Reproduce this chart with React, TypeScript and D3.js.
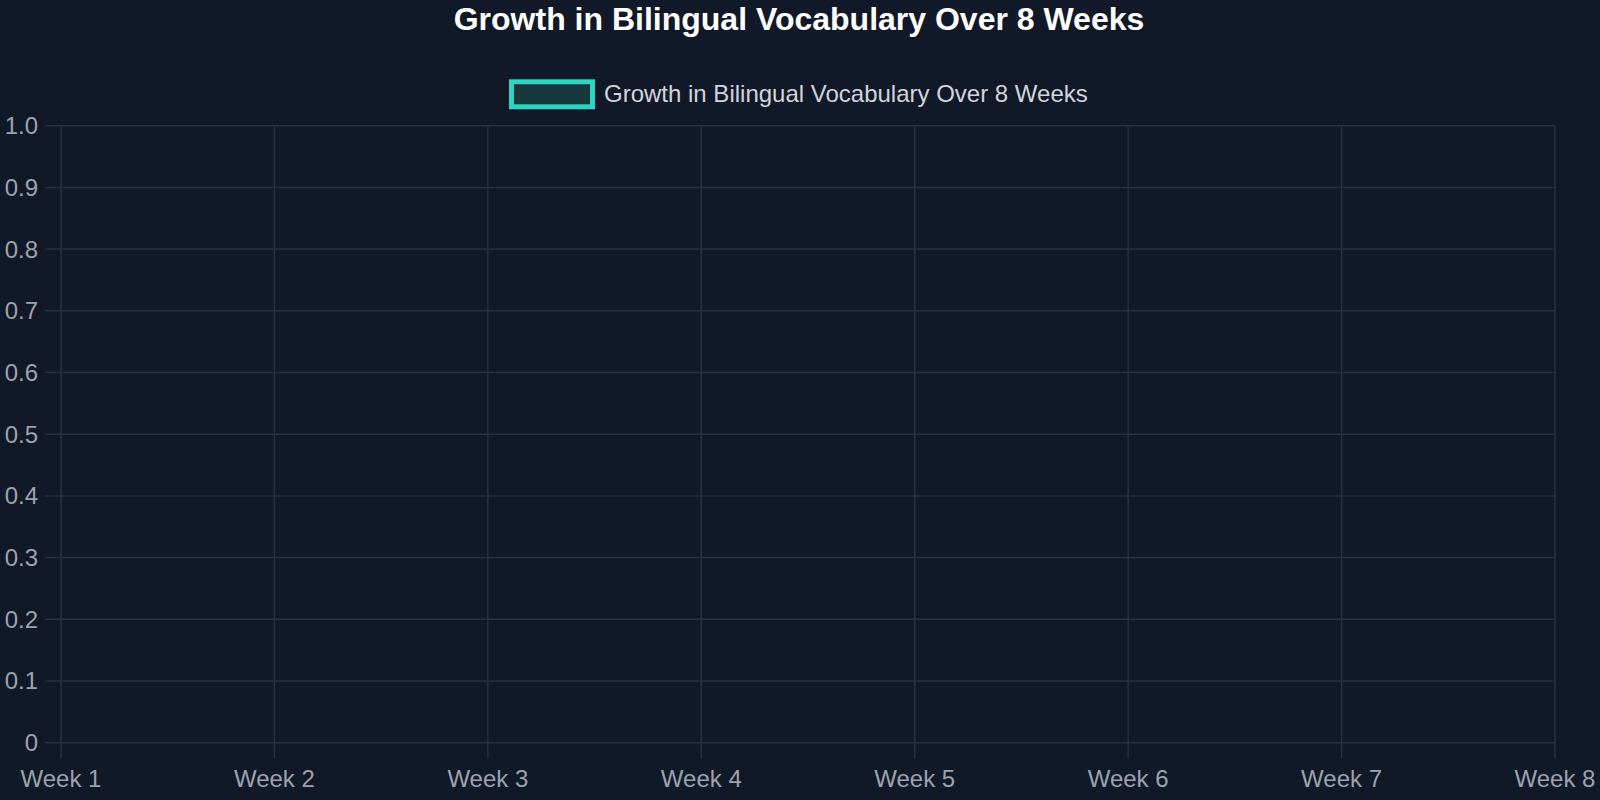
import React from "react";
import * as d3 from "d3";

const chartTitle = "Growth in Bilingual Vocabulary Over 8 Weeks";
const seriesName = "Growth in Bilingual Vocabulary Over 8 Weeks";
const categories = ["Week 1", "Week 2", "Week 3", "Week 4", "Week 5", "Week 6", "Week 7", "Week 8"];
const seriesValues: number[] = [];
const yTicks = [0, 0.1, 0.2, 0.3, 0.4, 0.5, 0.6, 0.7, 0.8, 0.9, 1.0];
const yTickLabels = ["0", "0.1", "0.2", "0.3", "0.4", "0.5", "0.6", "0.7", "0.8", "0.9", "1.0"];

const W = 1600;
const H = 800;
const left = 61;
const right = 1555;
const top = 125.7;
const bottom = 742.7;
const font = "'Liberation Sans', Arial, Helvetica, sans-serif";

export default function App() {
  const x = d3.scalePoint<string>().domain(categories).range([left, right]);
  const y = d3.scaleLinear().domain([0, 1]).range([bottom, top]);
  const line = d3
    .line<number>()
    .x((_, i) => x(categories[i]) as number)
    .y((d) => y(d));
  const grid = "#292f3d";
  return (
    <svg
      width={W}
      height={H}
      style={{ position: "absolute", left: 0, top: 0, display: "block" }}
      fontFamily={font}
    >
      <rect x={0} y={0} width={W} height={H} fill="#111827" />
      <text x={799} y={30} textAnchor="middle" fill="#ffffff" fontSize={32} fontWeight="bold">
        {chartTitle}
      </text>
      <rect x={511.5} y={81.8} width={81} height={25} fill="#17363e" stroke="#2dd4bf" strokeWidth={5} />
      <text x={604} y={102.3} fill="#d1d5db" fontSize={24}>
        {seriesName}
      </text>
      {yTicks.map((t, i) => (
        <g key={"y" + i}>
          <line x1={45} x2={right} y1={y(t)} y2={y(t)} stroke={grid} strokeWidth={1.5} />
          <text x={38} y={y(t)} dy="0.35em" textAnchor="end" fill="#9ca3af" fontSize={24}>
            {yTickLabels[i]}
          </text>
        </g>
      ))}
      {categories.map((c) => (
        <g key={c}>
          <line x1={x(c)} x2={x(c)} y1={top} y2={758.3} stroke={grid} strokeWidth={1.5} />
          <text x={x(c)} y={787} textAnchor="middle" fill="#9ca3af" fontSize={24}>
            {c}
          </text>
        </g>
      ))}
      {seriesValues.length > 0 && (
        <path d={line(seriesValues) || ""} fill="none" stroke="#2dd4bf" strokeWidth={3} />
      )}
    </svg>
  );
}
